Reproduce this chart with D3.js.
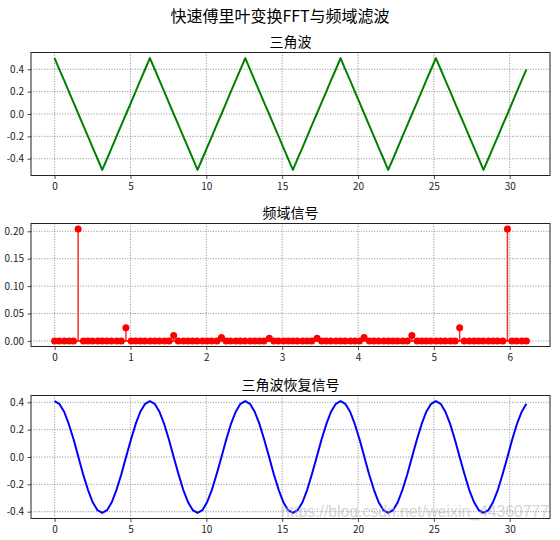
<!DOCTYPE html>
<html lang="zh">

<head>
  <meta charset="UTF-8">
  <title>快速傅里叶变换FFT与频域滤波</title>
  <style>
    body { margin: 0; background: #fff; }
    svg { display: block; font-family: "Noto Sans CJK SC", "DejaVu Sans", sans-serif; }
  </style>
</head>

<body>
  <svg></svg>
  <script src="https://cdn.jsdelivr.net/npm/d3@7/dist/d3.min.js"></script>
  <script>
    // 采样时间 t（100 个点，0 ~ 31.1）
    var timeT = [
      0.00, 0.31, 0.63, 0.94, 1.26, 1.57, 1.88, 2.20, 2.51, 2.83,
      3.14, 3.46, 3.77, 4.08, 4.40, 4.71, 5.03, 5.34, 5.65, 5.97,
      6.28, 6.60, 6.91, 7.23, 7.54, 7.85, 8.17, 8.48, 8.80, 9.11,
      9.42, 9.74, 10.05, 10.37, 10.68, 11.00, 11.31, 11.62, 11.94, 12.25,
      12.57, 12.88, 13.19, 13.51, 13.82, 14.14, 14.45, 14.77, 15.08, 15.39,
      15.71, 16.02, 16.34, 16.65, 16.96, 17.28, 17.59, 17.91, 18.22, 18.54,
      18.85, 19.16, 19.48, 19.79, 20.11, 20.42, 20.73, 21.05, 21.36, 21.68,
      21.99, 22.31, 22.62, 22.93, 23.25, 23.56, 23.88, 24.19, 24.50, 24.82,
      25.13, 25.45, 25.76, 26.08, 26.39, 26.70, 27.02, 27.33, 27.65, 27.96,
      28.27, 28.59, 28.90, 29.22, 29.53, 29.85, 30.16, 30.47, 30.79, 31.10
    ];

    // 三角波
    var triangleY = [
      0.5, 0.4, 0.3, 0.2, 0.1, 0.0, -0.1, -0.2, -0.3, -0.4, -0.5, -0.4, -0.3, -0.2, -0.1, 0.0, 0.1, 0.2, 0.3, 0.4,
      0.5, 0.4, 0.3, 0.2, 0.1, 0.0, -0.1, -0.2, -0.3, -0.4, -0.5, -0.4, -0.3, -0.2, -0.1, 0.0, 0.1, 0.2, 0.3, 0.4,
      0.5, 0.4, 0.3, 0.2, 0.1, 0.0, -0.1, -0.2, -0.3, -0.4, -0.5, -0.4, -0.3, -0.2, -0.1, 0.0, 0.1, 0.2, 0.3, 0.4,
      0.5, 0.4, 0.3, 0.2, 0.1, 0.0, -0.1, -0.2, -0.3, -0.4, -0.5, -0.4, -0.3, -0.2, -0.1, 0.0, 0.1, 0.2, 0.3, 0.4,
      0.5, 0.4, 0.3, 0.2, 0.1, 0.0, -0.1, -0.2, -0.3, -0.4, -0.5, -0.4, -0.3, -0.2, -0.1, 0.0, 0.1, 0.2, 0.3, 0.4
    ];

    // 频率轴 (0 ~ 2π)
    var freqX = [
      0.00, 0.06, 0.13, 0.19, 0.25, 0.31, 0.38, 0.44, 0.50, 0.57,
      0.63, 0.69, 0.75, 0.82, 0.88, 0.94, 1.01, 1.07, 1.13, 1.19,
      1.26, 1.32, 1.38, 1.45, 1.51, 1.57, 1.63, 1.70, 1.76, 1.82,
      1.88, 1.95, 2.01, 2.07, 2.14, 2.20, 2.26, 2.32, 2.39, 2.45,
      2.51, 2.58, 2.64, 2.70, 2.76, 2.83, 2.89, 2.95, 3.02, 3.08,
      3.14, 3.20, 3.27, 3.33, 3.39, 3.46, 3.52, 3.58, 3.64, 3.71,
      3.77, 3.83, 3.90, 3.96, 4.02, 4.08, 4.15, 4.21, 4.27, 4.34,
      4.40, 4.46, 4.52, 4.59, 4.65, 4.71, 4.78, 4.84, 4.90, 4.96,
      5.03, 5.09, 5.15, 5.22, 5.28, 5.34, 5.40, 5.47, 5.53, 5.59,
      5.65, 5.72, 5.78, 5.84, 5.91, 5.97, 6.03, 6.09, 6.16, 6.22
    ];

    // 频域幅值
    var freqAmp = [
      0, 0, 0, 0, 0, 0.204, 0, 0, 0, 0,
      0, 0, 0, 0, 0, 0.024, 0, 0, 0, 0,
      0, 0, 0, 0, 0, 0.010, 0, 0, 0, 0,
      0, 0, 0, 0, 0, 0.006, 0, 0, 0, 0,
      0, 0, 0, 0, 0, 0.005, 0, 0, 0, 0,
      0, 0, 0, 0, 0, 0.005, 0, 0, 0, 0,
      0, 0, 0, 0, 0, 0.006, 0, 0, 0, 0,
      0, 0, 0, 0, 0, 0.010, 0, 0, 0, 0,
      0, 0, 0, 0, 0, 0.024, 0, 0, 0, 0,
      0, 0, 0, 0, 0, 0.204, 0, 0, 0, 0
    ];

    // 滤波后恢复信号
    var recoverY = [
      0.409, 0.389, 0.331, 0.240, 0.126, 0.000, -0.126, -0.240, -0.331, -0.389,
      -0.409, -0.389, -0.331, -0.240, -0.126, 0.000, 0.126, 0.240, 0.331, 0.389,
      0.409, 0.389, 0.331, 0.240, 0.126, 0.000, -0.126, -0.240, -0.331, -0.389,
      -0.409, -0.389, -0.331, -0.240, -0.126, 0.000, 0.126, 0.240, 0.331, 0.389,
      0.409, 0.389, 0.331, 0.240, 0.126, 0.000, -0.126, -0.240, -0.331, -0.389,
      -0.409, -0.389, -0.331, -0.240, -0.126, 0.000, 0.126, 0.240, 0.331, 0.389,
      0.409, 0.389, 0.331, 0.240, 0.126, 0.000, -0.126, -0.240, -0.331, -0.389,
      -0.409, -0.389, -0.331, -0.240, -0.126, 0.000, 0.126, 0.240, 0.331, 0.389,
      0.409, 0.389, 0.331, 0.240, 0.126, 0.000, -0.126, -0.240, -0.331, -0.389,
      -0.409, -0.389, -0.331, -0.240, -0.126, 0.000, 0.126, 0.240, 0.331, 0.389
    ];

    // 刻度
    var timeTicks = [0, 5, 10, 15, 20, 25, 30];
    var waveTicks = [-0.4, -0.2, 0.0, 0.2, 0.4];
    var freqTicks = [0, 1, 2, 3, 4, 5, 6];
    var ampTicks = [0.00, 0.05, 0.10, 0.15, 0.20];

    var titles = ["三角波", "频域信号", "三角波恢复信号"];
    var suptitle = "快速傅里叶变换FFT与频域滤波";

    var width = 560, height = 540;
    var left = 31, right = 550, axH = 123;
    var tops = [52.5, 223.5, 395.5];

    var svg = d3.select("svg")
      .attr("width", width)
      .attr("height", height);

    svg.append("rect").attr("width", width).attr("height", height).attr("fill", "#fff");

    svg.append("text")
      .attr("x", width / 2)
      .attr("y", 22)
      .attr("text-anchor", "middle")
      .attr("font-size", "16px")
      .attr("fill", "#000")
      .text(suptitle);

    // matplotlib 默认 5% 边距
    function padded(lo, hi) {
      var m = (hi - lo) * 0.05;
      return [lo - m, hi + m];
    }

    function fmt(spec) {
      var f = d3.format(spec);
      return function (d) { return f(d).replace("\u2212", "-"); };
    }

    function drawAxes(i, x, y, xTicks, yTicks, yFmt) {
      var top = tops[i], bottom = top + axH;
      var g = svg.append("g");

      // 网格
      g.append("g").selectAll("line.gx")
        .data(xTicks).join("line")
        .attr("x1", d => x(d)).attr("x2", d => x(d))
        .attr("y1", top).attr("y2", bottom);
      g.append("g").selectAll("line.gy")
        .data(yTicks).join("line")
        .attr("x1", left).attr("x2", right)
        .attr("y1", d => y(d)).attr("y2", d => y(d));
      g.selectAll("line")
        .attr("stroke", "#808080")
        .attr("stroke-width", 0.9)
        .attr("stroke-dasharray", "1,1.6");

      // 坐标轴
      var xa = g.append("g")
        .attr("transform", `translate(0, ${bottom})`)
        .call(d3.axisBottom(x).tickValues(xTicks).tickSize(3.5).tickPadding(3.5).tickFormat(fmt("d")));
      var ya = g.append("g")
        .attr("transform", `translate(${left}, 0)`)
        .call(d3.axisLeft(y).tickValues(yTicks).tickSize(3.5).tickPadding(3.5).tickFormat(fmt(yFmt)));
      [xa, ya].forEach(function (a) {
        a.select(".domain").remove();
        a.selectAll("text")
          .attr("font-size", "10px")
          .attr("font-family", "\"Noto Sans CJK SC\", \"DejaVu Sans\", sans-serif")
          .attr("fill", "#222");
        a.selectAll(".tick line").attr("stroke", "#222").attr("stroke-width", 0.8);
      });

      // 标题
      svg.append("text")
        .attr("x", (left + right) / 2)
        .attr("y", top - 6)
        .attr("text-anchor", "middle")
        .attr("font-size", "14px")
        .attr("fill", "#000")
        .text(titles[i]);

      return g;
    }

    function frame(i) {
      svg.append("rect")
        .attr("x", left).attr("y", tops[i])
        .attr("width", right - left).attr("height", axH)
        .attr("fill", "none")
        .attr("stroke", "#222")
        .attr("stroke-width", 1);
    }

    // 1. 三角波
    var x1 = d3.scaleLinear().domain(padded(d3.min(timeT), d3.max(timeT))).range([left, right]);
    var y1 = d3.scaleLinear().domain(padded(d3.min(triangleY), d3.max(triangleY))).range([tops[0] + axH, tops[0]]);
    drawAxes(0, x1, y1, timeTicks, waveTicks, ".1f");
    svg.append("path")
      .datum(timeT.map((t, k) => [t, triangleY[k]]))
      .attr("fill", "none")
      .attr("stroke", "#008000")
      .attr("stroke-width", 2)
      .attr("stroke-linejoin", "round")
      .attr("d", d3.line().x(d => x1(d[0])).y(d => y1(d[1])));
    frame(0);

    // 2. 频域信号 (stem)
    var x2 = d3.scaleLinear().domain(padded(d3.min(freqX), d3.max(freqX))).range([left, right]);
    var y2 = d3.scaleLinear().domain(padded(0, d3.max(freqAmp))).range([tops[1] + axH, tops[1]]);
    drawAxes(1, x2, y2, freqTicks, ampTicks, ".2f");
    var stems = freqX.map((f, k) => [f, freqAmp[k]]);
    svg.append("g").selectAll("line")
      .data(stems).join("line")
      .attr("x1", d => x2(d[0])).attr("x2", d => x2(d[0]))
      .attr("y1", y2(0)).attr("y2", d => y2(d[1]))
      .attr("stroke", "#ff2a2a")
      .attr("stroke-width", 1.5);
    svg.append("line")
      .attr("x1", x2(d3.min(freqX))).attr("x2", x2(d3.max(freqX)))
      .attr("y1", y2(0)).attr("y2", y2(0))
      .attr("stroke", "#ff0000")
      .attr("stroke-width", 1.5);
    svg.append("g").selectAll("circle")
      .data(stems).join("circle")
      .attr("cx", d => x2(d[0]))
      .attr("cy", d => y2(d[1]))
      .attr("r", 3.5)
      .attr("fill", "#ff0000");
    frame(1);

    // 3. 恢复信号
    var x3 = d3.scaleLinear().domain(padded(d3.min(timeT), d3.max(timeT))).range([left, right]);
    var y3 = d3.scaleLinear().domain(padded(d3.min(recoverY), d3.max(recoverY))).range([tops[2] + axH, tops[2]]);
    drawAxes(2, x3, y3, timeTicks, waveTicks, ".1f");
    svg.append("path")
      .datum(timeT.map((t, k) => [t, recoverY[k]]))
      .attr("fill", "none")
      .attr("stroke", "#0000ff")
      .attr("stroke-width", 2)
      .attr("stroke-linejoin", "round")
      .attr("d", d3.line().x(d => x3(d[0])).y(d => y3(d[1])));
    frame(2);

    // 水印
    svg.append("text")
      .attr("x", 281)
      .attr("y", 517)
      .attr("font-family", "\"Liberation Sans\", Arial, sans-serif")
      .attr("font-size", "16px")
      .attr("fill", "#b4b4b4")
      .attr("opacity", 0.55)
      .attr("textLength", 268)
      .attr("lengthAdjust", "spacingAndGlyphs")
      .text("https://blog.csdn.net/weixin_44360777");
  </script>
</body>

</html>
